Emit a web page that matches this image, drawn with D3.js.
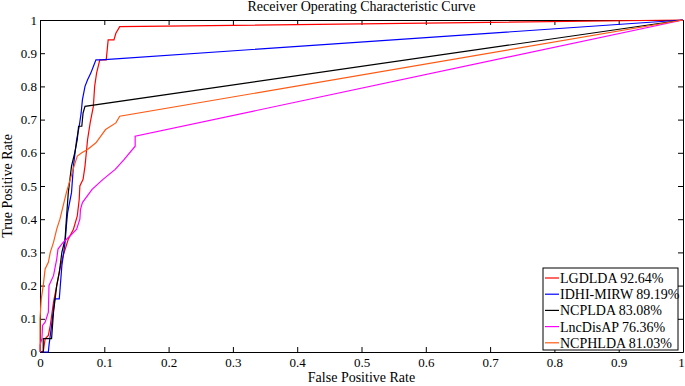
<!DOCTYPE html>
<html>
<head>
<meta charset="utf-8">
<script src="https://cdn.jsdelivr.net/npm/d3@7"></script>
<style>
  body { margin: 0; background: #fff; }
  svg text { font-family: "Liberation Serif", "Times New Roman", Times, "DejaVu Serif", serif !important; fill: #000; }
</style>
</head>
<body>
<div id="container"></div>
<script>
// ROC points, [fpr, tpr]
let lgdlda = [[0,0],[0.005,0],[0.008,0.04],[0.013,0.05],[0.016,0.08],[0.021,0.15],[0.025,0.19],[0.031,0.25],[0.036,0.29],[0.044,0.34],[0.052,0.37],[0.058,0.41],[0.061,0.46],[0.062,0.50],[0.067,0.52],[0.070,0.56],[0.074,0.64],[0.078,0.69],[0.083,0.74],[0.085,0.80],[0.088,0.84],[0.093,0.88],[0.103,0.88],[0.106,0.94],[0.115,0.94],[0.118,0.96],[0.124,0.98],[1,1]];
let idhi = [[0,0],[0.013,0],[0.014,0.02],[0.018,0.08],[0.023,0.16],[0.030,0.16],[0.034,0.26],[0.039,0.33],[0.041,0.38],[0.043,0.42],[0.049,0.48],[0.052,0.56],[0.057,0.64],[0.061,0.68],[0.064,0.72],[0.066,0.76],[0.070,0.80],[0.074,0.82],[0.079,0.84],[0.083,0.86],[0.087,0.88],[0.095,0.88],[1,1]];
let ncplda = [[0,0],[0.005,0],[0.005,0.04],[0.018,0.04],[0.021,0.12],[0.026,0.20],[0.030,0.24],[0.034,0.30],[0.039,0.34],[0.041,0.40],[0.044,0.48],[0.049,0.56],[0.054,0.60],[0.058,0.64],[0.060,0.68],[0.065,0.68],[0.067,0.72],[0.070,0.74],[1,1]];
let lncdisap = [[0,0],[0,0.02],[0.003,0.04],[0.004,0.08],[0.008,0.09],[0.013,0.12],[0.014,0.20],[0.021,0.23],[0.026,0.28],[0.028,0.31],[0.036,0.33],[0.047,0.35],[0.057,0.37],[0.062,0.40],[0.063,0.43],[0.066,0.45],[0.081,0.49],[0.098,0.52],[0.117,0.55],[0.131,0.58],[0.148,0.62],[0.148,0.65],[1,1]];
let ncphlda = [[0,0],[0,0.10],[0.002,0.16],[0.005,0.20],[0.008,0.25],[0.013,0.27],[0.016,0.30],[0.021,0.33],[0.026,0.37],[0.031,0.40],[0.036,0.44],[0.041,0.48],[0.047,0.52],[0.053,0.56],[0.058,0.59],[0.065,0.60],[0.074,0.61],[0.087,0.63],[0.102,0.67],[0.118,0.69],[0.124,0.71],[1,1]];

let names = ["LGDLDA 92.64%", "IDHI-MIRW 89.19%", "NCPLDA 83.08%", "LncDisAP 76.36%", "NCPHLDA 81.03%"];
let colors = ["#ff0000", "#0000ff", "#000000", "#ff00ff", "#ff5a14"];
let curves = [lgdlda, idhi, ncplda, lncdisap, ncphlda];
let ticks = [0, 0.1, 0.2, 0.3, 0.4, 0.5, 0.6, 0.7, 0.8, 0.9, 1];

let w = 685;
let h = 386;
let padLeft = 40, padRight = 683, padTop = 20, padBottom = 352;

let viz = d3.select("#container")
  .append("svg")
  .attr("width", w)
  .attr("height", h);

let x = d3.scaleLinear().domain([0, 1]).range([padLeft, padRight]);
let y = d3.scaleLinear().domain([0, 1]).range([padBottom, padTop]);

let fmt = d => d === 0 ? "0" : d === 1 ? "1" : d3.format(".1f")(d);

// axes, ticks pointing inward like matlab
let xAxis = viz.append("g")
  .attr("transform", `translate(0,${padBottom})`)
  .call(d3.axisBottom(x).tickValues(ticks).tickFormat(fmt).tickSizeInner(-5).tickSizeOuter(0).tickPadding(6));
viz.append("g")
  .attr("transform", `translate(0,${padTop})`)
  .call(d3.axisTop(x).tickValues(ticks).tickFormat("").tickSizeInner(-5).tickSizeOuter(0));
viz.append("g")
  .attr("transform", `translate(${padLeft},0)`)
  .call(d3.axisLeft(y).tickValues(ticks).tickFormat(fmt).tickSizeInner(-5).tickSizeOuter(0).tickPadding(3));
viz.append("g")
  .attr("transform", `translate(${padRight},0)`)
  .call(d3.axisRight(y).tickValues(ticks).tickFormat("").tickSizeInner(-5).tickSizeOuter(0));

// keep the last "1" inside the window
xAxis.selectAll(".tick text").filter(d => d === 1).attr("dx", -2);

viz.selectAll("g").attr("font-family", null);
viz.selectAll(".domain").attr("stroke", "#000").attr("stroke-width", 1);
viz.selectAll(".tick line").attr("stroke", "#000");
viz.selectAll(".tick text").style("font-size", "13px").attr("fill", "#000");

let line = d3.line().x(d => x(d[0])).y(d => y(d[1]));

viz.selectAll(".roc").data(curves).enter()
  .append("path")
  .attr("class", "roc")
  .attr("d", line)
  .attr("fill", "none")
  .attr("stroke", (d, i) => colors[i])
  .attr("stroke-width", 1.2);

// title and labels
viz.append("text")
  .attr("x", (padLeft + padRight) / 2).attr("y", 11)
  .attr("text-anchor", "middle")
  .style("font-size", "14px")
  .text("Receiver Operating Characteristic Curve");
viz.append("text")
  .attr("x", (padLeft + padRight) / 2).attr("y", 382)
  .attr("text-anchor", "middle")
  .style("font-size", "14px")
  .text("False Positive Rate");
viz.append("text")
  .attr("transform", `translate(12,${(padTop + padBottom) / 2}) rotate(-90)`)
  .attr("text-anchor", "middle")
  .style("font-size", "14px")
  .text("True Positive Rate");

// legend
let lg = viz.append("g").attr("transform", "translate(543,268)");
lg.append("rect")
  .attr("width", 135).attr("height", 82)
  .attr("fill", "#fff").attr("stroke", "#000").attr("stroke-width", 1);
let rows = lg.selectAll(".row").data(names).enter()
  .append("g")
  .attr("transform", (d, i) => `translate(0,${10 + i * 16.2})`);
rows.append("line")
  .attr("x1", 2).attr("x2", 16)
  .attr("stroke", (d, i) => colors[i]).attr("stroke-width", 1.2);
rows.append("text")
  .attr("x", 17).attr("y", 5)
  .style("font-size", "14px")
  .text(d => d);
</script>
</body>
</html>
